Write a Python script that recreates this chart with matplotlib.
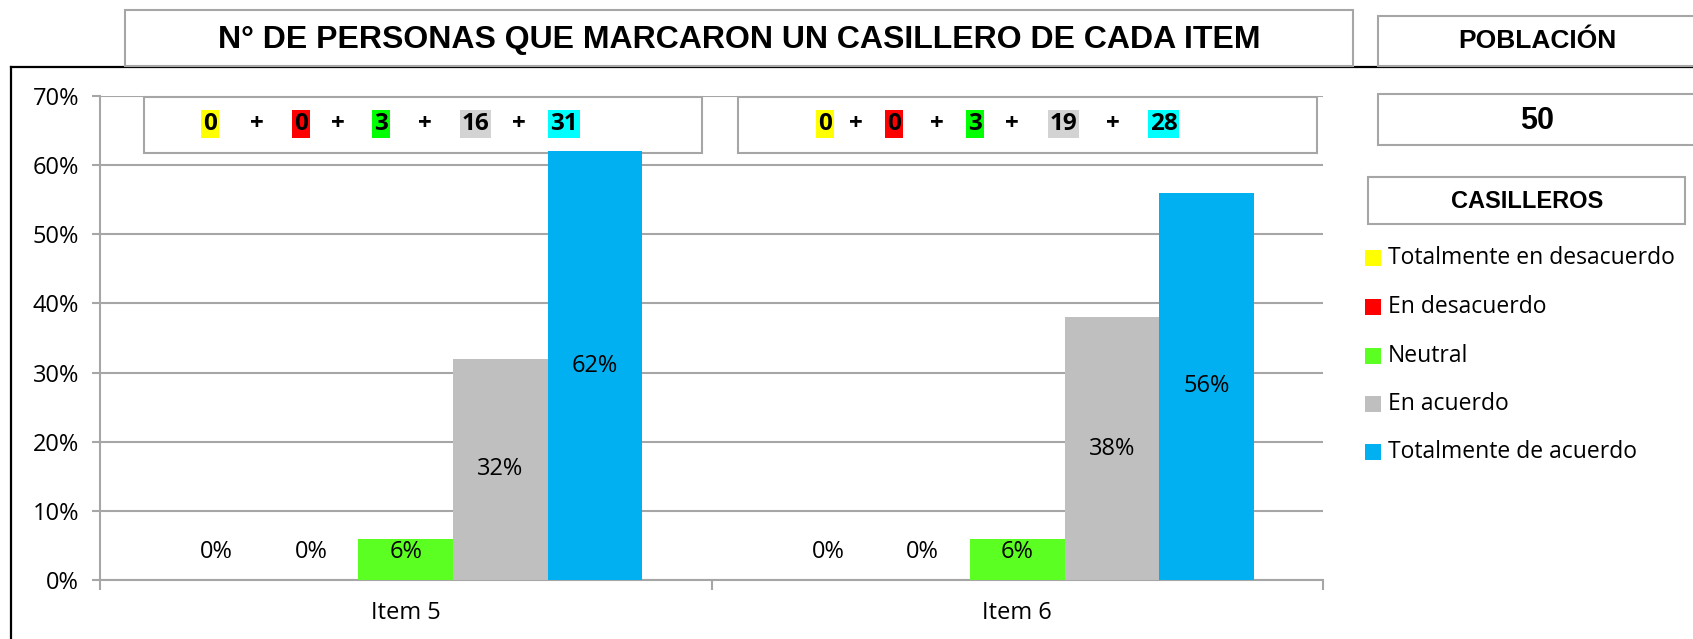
import numpy as np
import matplotlib
matplotlib.use('Agg')
import matplotlib.pyplot as plt
from matplotlib.patches import Rectangle
from matplotlib.lines import Line2D

# datos
items = ['Item 5', 'Item 6']
casilleros = ['Totalmente en desacuerdo', 'En desacuerdo', 'Neutral',
              'En acuerdo', 'Totalmente de acuerdo']
conteos = {
    'Item 5': [0, 0, 3, 16, 31],
    'Item 6': [0, 0, 3, 19, 28],
}
porcentajes = {
    'Item 5': [0, 0, 6, 32, 62],
    'Item 6': [0, 0, 6, 38, 56],
}
poblacion = 50
y_ticks = [0, 10, 20, 30, 40, 50, 60, 70]

colores_barra = ['#FFFF00', '#FF0000', '#5BFF21', '#BFBFBF', '#00B0F0']
colores_resalte = ['#FFFF00', '#FF0000', '#00FF00', '#D3D3D3', '#00FFFF']

W, H = 1693, 639
GRID = '#A6A6A6'
BOXC = '#A6A6A6'
REG = ['Open Sans', 'DejaVu Sans']
BOLD = ['Liberation Sans', 'DejaVu Sans']
FS = 17

fig = plt.figure(figsize=(W / 100, H / 100), dpi=100)


def fx(x):
    return x / W


def fy(y):
    return 1 - y / H


def caja(x0, y0, x1, y1, lw=1.5, ec=BOXC, z=5):
    r = Rectangle((fx(x0), fy(y1)), fx(x1) - fx(x0), fy(y0) - fy(y1),
                  transform=fig.transFigure, facecolor='white',
                  edgecolor=ec, linewidth=lw, zorder=z)
    fig.add_artist(r)


# marco negro del grafico
fig.add_artist(Line2D([fx(11), fx(W + 5)], [fy(67), fy(67)], color='black',
                      lw=1.6, transform=fig.transFigure, zorder=1))
fig.add_artist(Line2D([fx(11), fx(11)], [fy(67), fy(H + 5)], color='black',
                      lw=1.6, transform=fig.transFigure, zorder=1))

# ejes
ax = fig.add_axes([fx(100), fy(580), fx(1323) - fx(100), fy(96) - fy(580)])
ax.patch.set_visible(False)
ancho = 0.1546
x = np.arange(len(items))
for i, nombre in enumerate(casilleros):
    vals = [porcentajes[it][i] for it in items]
    pos = x + (i - 2) * ancho
    ax.bar(pos, vals, width=ancho, color=colores_barra[i], zorder=3)
    for px_, v in zip(pos, vals):
        yl = v / 2 if v >= 10 else 4.0
        ax.text(px_, yl, f'{v}%', ha='center', va='center', fontsize=FS,
                family=REG, zorder=4)

ax.set_xlim(-0.5, 1.5)
ax.set_ylim(0, 70)
ax.set_yticks(y_ticks)
ax.set_yticklabels([f'{t}%' for t in y_ticks], family=REG, fontsize=FS)
ax.yaxis.grid(True, color=GRID, lw=1.5, zorder=0)
ax.set_axisbelow(True)
ax.tick_params(axis='y', length=6, width=1.5, color=GRID, pad=9)
ax.set_xticks([-0.5, 0.5, 1.5])
ax.set_xticklabels([])
ax.set_xticks(x, minor=True)
ax.set_xticklabels(items, minor=True, family=REG, fontsize=FS)
ax.tick_params(axis='x', which='major', length=7, width=1.5, color=GRID)
ax.tick_params(axis='x', which='minor', length=0, pad=15)
for s in ['top', 'right']:
    ax.spines[s].set_visible(False)
for s in ['left', 'bottom']:
    ax.spines[s].set_color(GRID)
    ax.spines[s].set_linewidth(1.5)

# titulo
caja(125, 10, 1353, 66)
fig.text(fx(739), fy(40), 'N° DE PERSONAS QUE MARCARON UN CASILLERO DE CADA ITEM',
         ha='center', va='center', fontsize=23, fontweight='bold', family=BOLD,
         zorder=6)

# poblacion
caja(1378, 16, W + 10, 66)
fig.text(fx(1537), fy(41), 'POBLACIÓN', ha='center', va='center', fontsize=19,
         fontweight='bold', family=BOLD, zorder=6)
caja(1378, 94, W + 10, 145)
fig.text(fx(1537), fy(121), str(poblacion), ha='center', va='center',
         fontsize=22, fontweight='bold', family=BOLD, zorder=6)

# cajas de conteos (detras de las barras)
cajas_conteo = [(144, 97, 702, 153), (738, 97, 1317, 153)]
pos_num = [[210, 301, 381, 475.5, 564], [825, 894, 975, 1063.5, 1163.5]]
pos_mas = [[257, 338, 425, 519], [856, 937, 1012, 1113]]
for k, it in enumerate(items):
    caja(*cajas_conteo[k], z=-1)
    for j, c in enumerate(conteos[it]):
        fig.text(fx(pos_num[k][j]), fy(124), str(c), ha='center', va='center',
                 fontsize=17.5, fontweight='bold', family=REG, zorder=7,
                 bbox=dict(boxstyle='square,pad=0.08', fc=colores_resalte[j],
                           ec='none'))
    for pm in pos_mas[k]:
        fig.text(fx(pm), fy(124), '+', ha='center', va='center', fontsize=17.5,
                 fontweight='bold', family=REG, zorder=7)

# leyenda
caja(1368, 177, 1685, 224)
fig.text(fx(1527), fy(201), 'CASILLEROS', ha='center', va='center',
         fontsize=17, fontweight='bold', family=BOLD, zorder=6)
filas_y = [258, 307, 356, 404, 452]
for nombre, col, yy in zip(casilleros, colores_barra, filas_y):
    fig.add_artist(Rectangle((fx(1365), fy(yy + 8)), fx(16), 16 / H,
                             transform=fig.transFigure, facecolor=col,
                             edgecolor='none'))
    fig.text(fx(1388), fy(yy), nombre, ha='left', va='center', fontsize=16.5,
             family=REG)

fig.savefig('out.png', dpi=100)
